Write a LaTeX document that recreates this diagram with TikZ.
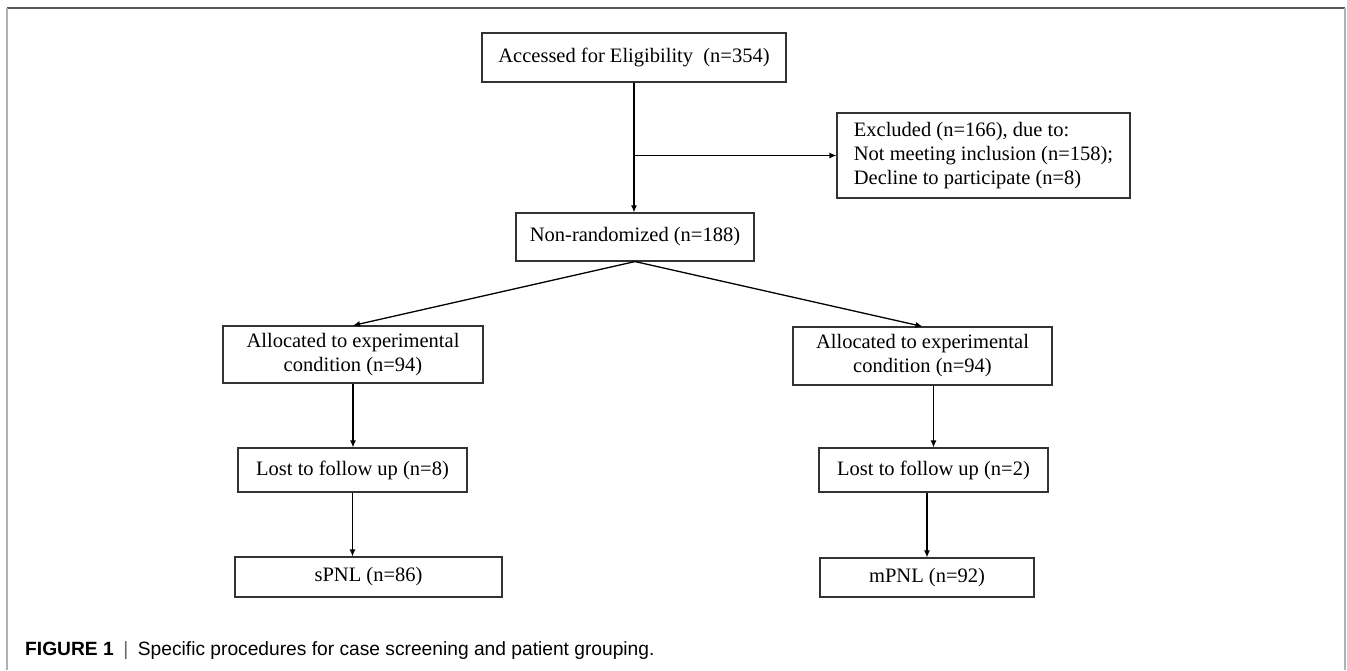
\documentclass[tikz,border=0pt]{standalone}
\usepackage{fontspec}
\setmainfont{Liberation Serif}
\newfontfamily\capfont{Liberation Sans}
\usetikzlibrary{arrows.meta}
\tikzset{
  flow box/.style={
    draw=black!80,
    line width=1.1pt,
    inner sep=0pt,
    align=center,
    font=\fontsize{20.5}{24}\selectfont,
  },
  flow arrow/.style={
    line width=1.3pt,
    -{Latex[length=7pt,width=6pt]},
  },
}

\begin{document}
\begin{tikzpicture}[x=1pt, y=-1pt]
        \useasboundingbox (0,0) rectangle (1347,670);
        \draw[black!65, line width=1.5pt] (7,8) -- (1345,8);
        \draw[black!30, line width=2pt] (7,8) -- (7,670) (1345,8) -- (1345,670);

        \node[flow box, minimum width=304pt, minimum height=49pt] (acc)     at (634,57.5)  {Accessed for Eligibility\ \ (n=354)};
        \node[flow box, minimum width=293pt, minimum height=85pt, align=left] (excl) at (983.5,155.5) {Excluded (n=166), due to:\\Not meeting inclusion (n=158);\\Decline to participate (n=8)};
        \node[flow box, minimum width=238pt, minimum height=48pt] (nonrand) at (635,237)   {Non-randomized (n=188)};
        \node[flow box, minimum width=260pt, minimum height=57pt] (allocL)  at (353,354.5) {Allocated to experimental\\condition (n=94)};
        \node[flow box, minimum width=259pt, minimum height=58pt] (allocR)  at (922.5,356) {Allocated to experimental\\condition (n=94)};
        \node[flow box, minimum width=229pt, minimum height=44pt] (lostL)   at (352.5,470) {Lost to follow up (n=8)};
        \node[flow box, minimum width=229pt, minimum height=44pt] (lostR)   at (933.5,470) {Lost to follow up (n=2)};
        \node[flow box, minimum width=267pt, minimum height=40pt] (spnl)    at (368.5,577) {sPNL (n=86)};
        \node[flow box, minimum width=214pt, minimum height=39pt] (mpnl)    at (927,577.5) {mPNL (n=92)};

        \node[anchor=base west, inner sep=0pt, font=\capfont\fontsize{19.2}{22}\selectfont] (caption) at (25,655)
          {\textbf{FIGURE 1}\enspace{\color{black!60}|}\enspace Specific procedures for case screening and patient grouping.};

        \coordinate (split) at (acc.south |- excl.west);
        \draw[flow arrow] (acc.south) to (acc.south |- nonrand.north);
        \draw[flow arrow] (split) to (excl.west);
        \draw[flow arrow] (nonrand.south) to (allocL.north);
        \draw[flow arrow] (nonrand.south) to (allocR.north);
        \draw[flow arrow] (allocL.south) to (allocL.south |- lostL.north);
        \draw[flow arrow] (allocR.south -| lostR.north) to (lostR.north);
        \draw[flow arrow] (lostL.south) to (lostL.south |- spnl.north);
        \draw[flow arrow] (lostR.south -| mpnl.north) to (mpnl.north);
      \end{tikzpicture}
\end{document}
